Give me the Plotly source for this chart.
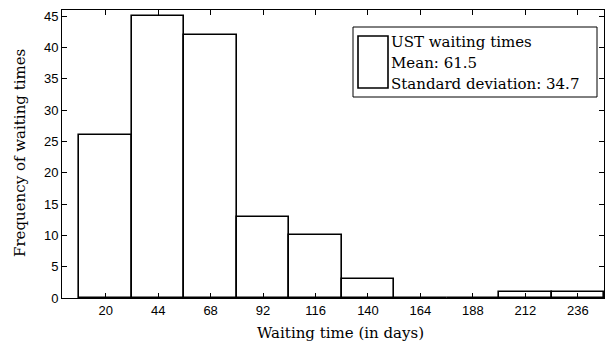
import plotly.graph_objects as go

bin_centers = [20, 44, 68, 92, 116, 140, 164, 188, 212, 236]
frequencies = [26, 45, 42, 13, 10, 3, 0, 0, 1, 1]
bin_width = 24
y_ticks = [0, 5, 10, 15, 20, 25, 30, 35, 40, 45]
series_name = "UST waiting times"
mean_value = 61.5
std_value = 34.7

serif = "DejaVu Serif, serif"
sans = "Liberation Sans, Arial, sans-serif"

fig = go.Figure()
fig.add_trace(go.Bar(
    x=bin_centers, y=frequencies, width=[bin_width] * len(bin_centers),
    marker=dict(color="white", line=dict(color="black", width=1.6)),
    showlegend=False,
))

axis_common = dict(
    showline=True, linecolor="black", linewidth=1, mirror="ticks",
    ticks="inside", ticklen=5, tickcolor="black", tickwidth=1,
    showgrid=False, zeroline=False,
    tickfont=dict(family=sans, size=13, color="black"),
)
fig.update_xaxes(range=[0, 248], tickvals=bin_centers, **axis_common)
fig.update_yaxes(range=[0, 46], tickvals=y_ticks, **axis_common)

pw, ph = 542, 288
def px(x):
    return (x - 62) / pw
def py(y):
    return (298 - y) / ph

shapes = [
    dict(type="rect", xref="paper", yref="paper", x0=px(353), x1=px(597), y0=py(97), y1=py(27),
         line=dict(color="black", width=1), fillcolor="white", layer="above"),
    dict(type="rect", xref="paper", yref="paper", x0=px(358), x1=px(388), y0=py(88), y1=py(36),
         line=dict(color="black", width=1.6), fillcolor="white", layer="above"),
]
legend_lines = [series_name, f"Mean: {mean_value}", f"Standard deviation: {std_value}"]
annotations = []
for i, t in enumerate(legend_lines):
    annotations.append(dict(text=t, xref="paper", yref="paper", x=px(389), y=py(42 + 21 * i),
                            xanchor="left", yanchor="middle", showarrow=False,
                            font=dict(family=serif, size=15, color="black")))
annotations.append(dict(text="Waiting time (in days)", xref="paper", yref="paper",
                        x=px(340), y=0, yshift=-35, xanchor="center", yanchor="middle",
                        showarrow=False, font=dict(family=serif, size=15, color="black")))
annotations.append(dict(text="Frequency of waiting times", xref="paper", yref="paper",
                        x=0, xshift=-42, y=py(153), textangle=-90, xanchor="center", yanchor="middle",
                        showarrow=False, font=dict(family=serif, size=15, color="black")))

fig.update_layout(
    width=605, height=345,
    margin=dict(l=62, r=1, t=10, b=47),
    plot_bgcolor="white", paper_bgcolor="white",
    shapes=shapes, annotations=annotations,
    bargap=0,
)
fig.write_html("out.html")
